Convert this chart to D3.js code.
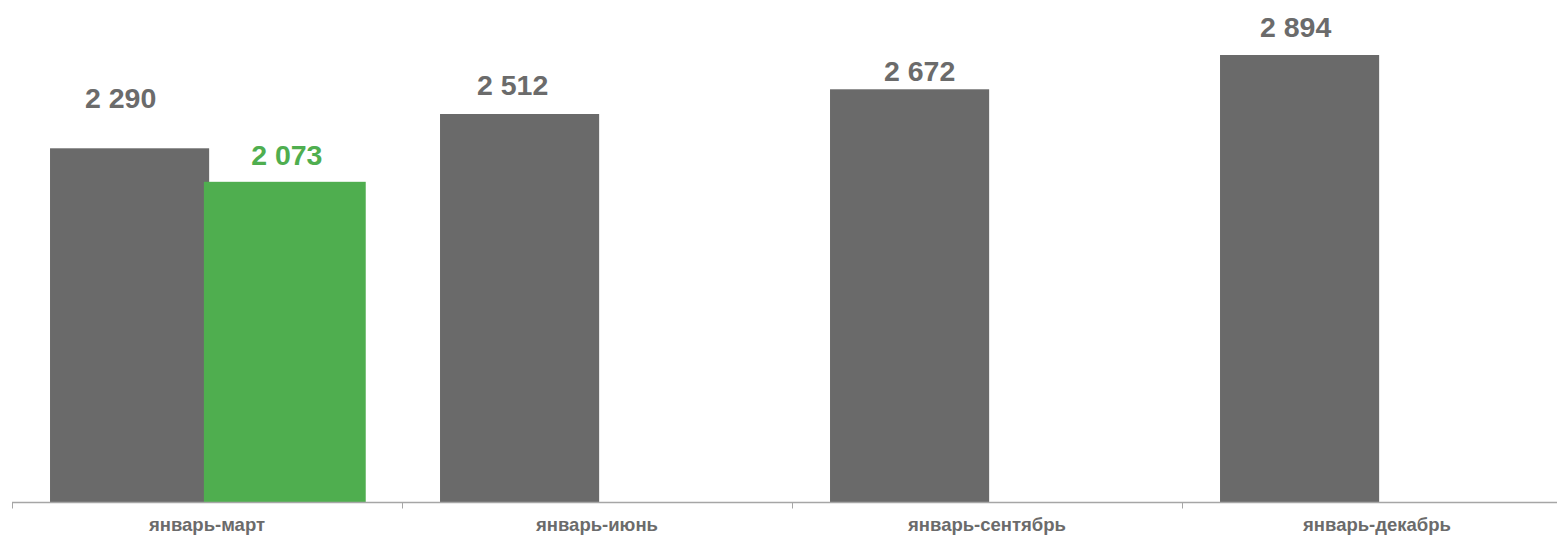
<!DOCTYPE html>
<html>
<head>
<meta charset="utf-8">
<script src="https://cdn.jsdelivr.net/npm/d3@7"></script>
<style>
  html, body { margin: 0; padding: 0; background: #ffffff; }
  svg { display: block; }
</style>
</head>
<body>
<svg id="chart" width="1557" height="536"></svg>
<script>
// ---- data ----
const categories = ["январь-март", "январь-июнь", "январь-сентябрь", "январь-декабрь"];
const grayValues = [2290, 2512, 2672, 2894];
const greenValues = [2073, null, null, null];

// ---- layout (label nudges, as placed in the original) ----
const grayLabelShift = [[-9, -40], [-7, -19], [10, -8], [-4, -18]];
const greenLabelShift = [[2, -17], [0, -17], [0, -17], [0, -17]];

const fmt = v => d3.format(",")(v).replace(/,/g, " ");

const svg = d3.select("#chart");
const W = 1557, H = 536;
const x = d3.scaleBand().domain(categories).range([12, 1572]).padding(0);
const y = d3.scaleLinear().domain([0, 2894]).range([502, 55]);
const bw = x.bandwidth();

const GRAY = "#6a6a6a", GREEN = "#4fae4f", AXIS = "#a6a6a6";

// gray bars
svg.append("g").selectAll("rect").data(categories).join("rect")
  .attr("x", d => x(d) + bw * 0.0975)
  .attr("width", bw * 0.408)
  .attr("y", (d, i) => y(grayValues[i]))
  .attr("height", (d, i) => y(0) - y(grayValues[i]))
  .attr("fill", GRAY);

// green bars
const greenData = categories.map((c, i) => ({ c, v: greenValues[i], i })).filter(d => d.v != null);
svg.append("g").selectAll("rect").data(greenData).join("rect")
  .attr("x", d => x(d.c) + bw * 0.492)
  .attr("width", bw * 0.415)
  .attr("y", d => y(d.v))
  .attr("height", d => y(0) - y(d.v))
  .attr("fill", GREEN);

// axis
const ax = svg.append("g").attr("transform", `translate(0,${y(0) + 0.5})`);
ax.append("line").attr("x1", 12).attr("x2", W).attr("y1", 0).attr("y2", 0)
  .attr("stroke", AXIS).attr("stroke-width", 1.3);
ax.selectAll("line.tick").data(categories).join("line")
  .attr("class", "tick")
  .attr("x1", d => Math.round(x(d)) + 0.5).attr("x2", d => Math.round(x(d)) + 0.5)
  .attr("y1", 0).attr("y2", 6)
  .attr("stroke", AXIS).attr("stroke-width", 1);

// category labels
svg.append("g").selectAll("text").data(categories).join("text")
  .attr("x", d => x(d) + bw / 2)
  .attr("y", 531)
  .attr("text-anchor", "middle")
  .attr("font-family", "Liberation Sans, Arial, sans-serif")
  .attr("font-weight", "bold")
  .attr("font-size", 18.5)
  .attr("fill", "#6b6b6b")
  .text(d => d);

// value labels (gray)
svg.append("g").selectAll("text").data(categories).join("text")
  .attr("x", (d, i) => x(d) + bw * 0.0975 + bw * 0.408 / 2 + grayLabelShift[i][0])
  .attr("y", (d, i) => y(grayValues[i]) + grayLabelShift[i][1])
  .attr("text-anchor", "middle")
  .attr("font-family", "Liberation Sans, Arial, sans-serif")
  .attr("font-weight", "bold")
  .attr("font-size", 28.5)
  .attr("fill", "#6b6b6b")
  .text((d, i) => fmt(grayValues[i]));

// value labels (green)
svg.append("g").selectAll("text").data(greenData).join("text")
  .attr("x", d => x(d.c) + bw * 0.492 + bw * 0.415 / 2 + greenLabelShift[d.i][0])
  .attr("y", d => y(d.v) + greenLabelShift[d.i][1])
  .attr("text-anchor", "middle")
  .attr("font-family", "Liberation Sans, Arial, sans-serif")
  .attr("font-weight", "bold")
  .attr("font-size", 28.5)
  .attr("fill", GREEN)
  .text(d => fmt(d.v));
</script>
</body>
</html>
